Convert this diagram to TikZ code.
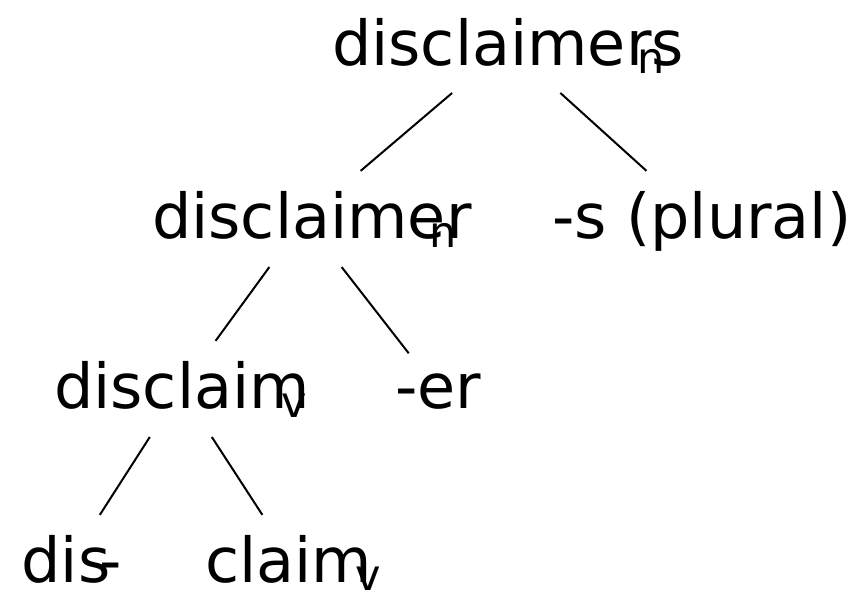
\documentclass[tikz,border=0pt]{standalone}
\usepackage{fontspec}
\setmainfont{DejaVu Sans}
\newcommand\lsub[2]{\raisebox{-#1pt}{\fontsize{43}{43}\selectfont #2}}
\begin{document}
\begin{tikzpicture}[x=1pt,y=1pt,
  word/.style={anchor=base west, inner xsep=0pt, inner ysep=20pt, outer sep=0pt,
    font=\fontsize{62}{62}\selectfont},
  edge/.style={draw=black, line width=2pt}]
\useasboundingbox (0,0) rectangle (852,-611);
\node[word] (r) at (332,-65) {disclaimer\rlap{\kern-14pt\lsub{8}{n}}s};
\node[word] (a) at (152,-238) {disclaimer\kern-42pt\lsub{9}{n}};
\node[word] (b) at (552,-238) {-s (plural)};
\node[word] (c) at (54,-408) {disclaim\kern-28pt\lsub{9}{v}};
\node[word] (d) at (395,-408) {-er};
\node[word] (e) at (21.5,-582) {dis\kern-11pt-};
\node[word] (f) at (205,-582) {claim\kern-16pt\lsub{8}{v}};
\draw[edge] (r) -- (a);
\draw[edge] (r) -- (b);
\draw[edge] (a) -- (c);
\draw[edge] (a) -- (d);
\draw[edge] (c) -- (e);
\draw[edge] (c) -- (f);
\end{tikzpicture}
\end{document}
